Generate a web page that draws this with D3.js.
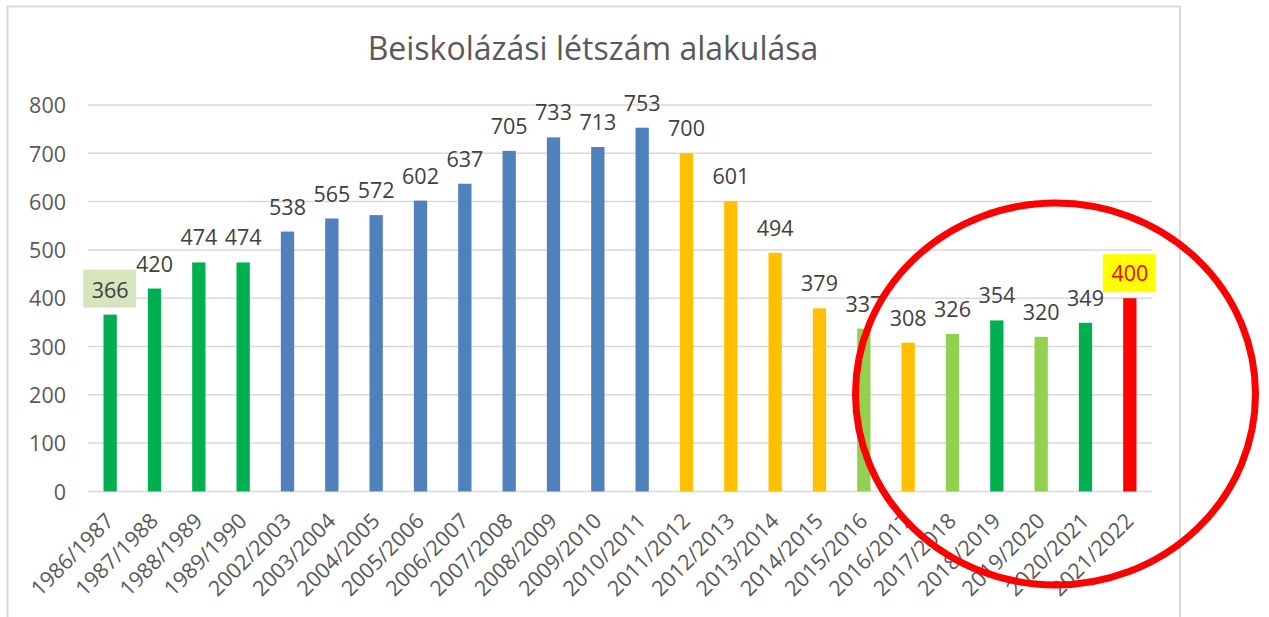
<!DOCTYPE html>
<html>
<head>
<meta charset="utf-8">
<script src="https://cdn.jsdelivr.net/npm/d3@7"></script>
<style>
  html, body { margin: 0; padding: 0; background: #fff; }
  svg { display: block; }
  text { font-family: "Open Sans", "Noto Sans", sans-serif; }
</style>
</head>
<body>
<svg id="chart" width="1269" height="617"></svg>
<script>
const title = "Beiskolázási létszám alakulása";
const categories = ["1986/1987","1987/1988","1988/1989","1989/1990","2002/2003","2003/2004","2004/2005","2005/2006","2006/2007","2007/2008","2008/2009","2009/2010","2010/2011","2011/2012","2012/2013","2013/2014","2014/2015","2015/2016","2016/2017","2017/2018","2018/2019","2019/2020","2020/2021","2021/2022"];
const values = [366,420,474,474,538,565,572,602,637,705,733,713,753,700,601,494,379,337,308,326,354,320,349,400];
const colorGroups = ["green","green","green","green","blue","blue","blue","blue","blue","blue","blue","blue","blue","orange","orange","orange","orange","lightgreen","orange","lightgreen","green","lightgreen","green","red"];
const yTicks = [0,100,200,300,400,500,600,700,800];

const palette = {green:"#00B050", blue:"#4F81BD", orange:"#FFC000", lightgreen:"#92D050", red:"#FF0000"};

const svg = d3.select("#chart");

// chart frame (cropped at bottom)
svg.append("path")
  .attr("d", "M7.5,630 L7.5,6.5 L1180,6.5 L1180,630")
  .attr("fill","none").attr("stroke","#D9D9D9").attr("stroke-width",2);

const plot = {left: 88, right: 1152, top: 105, bottom: 491.4};
const x = d3.scaleBand().domain(categories).range([plot.left, plot.right]).paddingInner(0.7).paddingOuter(0.35);
const y = d3.scaleLinear().domain([0,800]).range([plot.bottom, plot.top]);

// title
svg.append("text").attr("x", 593).attr("y", 60).attr("text-anchor","middle")
  .attr("font-size", 32).attr("fill","#595959").text(title);

// gridlines
svg.append("g").selectAll("line").data(yTicks).join("line")
  .attr("x1", plot.left).attr("x2", plot.right)
  .attr("y1", d => y(d)).attr("y2", d => y(d))
  .attr("stroke", "#D9D9D9").attr("stroke-width", 1.5);

// y axis labels
const yAxis = d3.axisLeft(y).tickValues(yTicks).tickSize(0).tickPadding(22);
const gy = svg.append("g").attr("transform", `translate(${plot.left},0)`).call(yAxis);
gy.select(".domain").remove();
gy.selectAll("text").attr("font-size", 21.5).attr("fill","#595959").attr("font-family", '"Open Sans", sans-serif').attr("dy","0.36em");

// bars
svg.append("g").selectAll("rect").data(values).join("rect")
  .attr("x", (d,i) => x(categories[i]))
  .attr("width", x.bandwidth())
  .attr("y", d => y(d))
  .attr("height", d => y(0) - y(d))
  .attr("fill", (d,i) => palette[colorGroups[i]]);

// x axis labels
const xAxis = d3.axisBottom(x).tickSize(0).tickPadding(0);
const gx = svg.append("g").attr("transform", `translate(0,${plot.bottom})`).call(xAxis);
gx.select(".domain").remove();
gx.selectAll("text")
  .attr("font-size", 21.5).attr("fill","#595959").attr("font-family", '"Open Sans", sans-serif')
  .attr("text-anchor","end")
  .attr("dy", null).attr("y", null)
  .attr("transform", "translate(5,31) rotate(-45)");

// data labels
const lblGroup = svg.append("g");
values.forEach((v,i) => {
  const cx = x(categories[i]) + x.bandwidth()/2;
  const by = y(v) - 17;
  if (i === 0) {
    lblGroup.append("rect").attr("x", cx-27).attr("y", by-28).attr("width", 53).attr("height", 38).attr("fill", "#D7E4BD");
  }
  if (i === values.length-1) {
    lblGroup.append("rect").attr("x", cx-27).attr("y", by-27).attr("width", 53).attr("height", 38).attr("fill", "#FFFF00");
  }
  lblGroup.append("text").attr("x", cx).attr("y", by)
    .attr("text-anchor","middle").attr("font-size", 21.5)
    .attr("fill", i === values.length-1 ? "#FF0000" : "#404040")
    .text(v);
});

// annotation circle
svg.append("ellipse").attr("cx", 1055.5).attr("cy", 394).attr("rx", 200).attr("ry", 191)
  .attr("fill","none").attr("stroke","#FF0000").attr("stroke-width", 7);
</script>
</body>
</html>
